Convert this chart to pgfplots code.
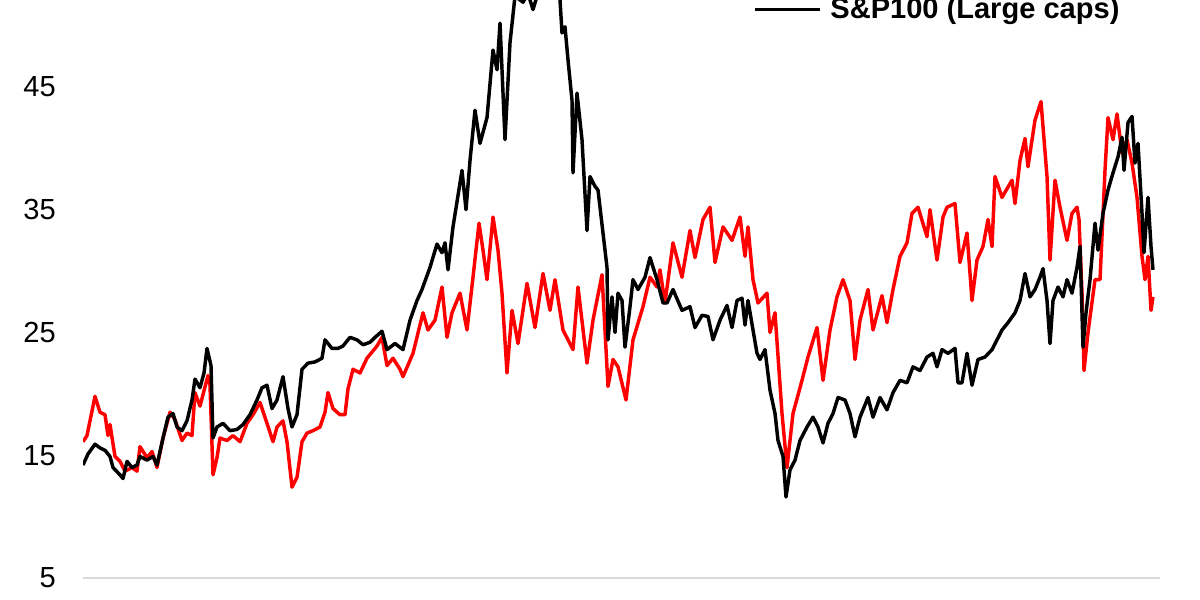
\documentclass[border=0pt]{standalone}
\usepackage{fontspec}
\setmainfont{Liberation Sans}
\usepackage{pgfplots}
\pgfplotsset{compat=1.18}

\begin{document}
\begin{tikzpicture}[x=0.01in,y=0.01in]
% 1 px of the reference = 0.01in; x values are the time axis read in px columns
\begin{axis}[
    scale only axis,
    width=10.77in, height=5.78in,
    xmin=83, xmax=1160,
    ymin=5, ymax=52.08,
    axis x line=bottom,
    axis y line=left,
    x axis line style={-, draw=black!15, line width=1.6pt},
    y axis line style={draw=none},
    xtick=\empty,
    ytick={5,15,25,35,45},
    major tick length=0pt,
    /pgf/number format/assume math mode=true,
    y tick label style={font=\fontsize{21}{24}\selectfont, inner sep=0pt, xshift=-0.27in},
    clip=true,
    every axis plot/.append style={line width=2.5pt, line join=round},
    legend style={at={(rel axis cs:0.622,0.984)}, anchor=west, draw=none, fill=none,
        inner sep=0pt, font=\fontsize{21}{24}\selectfont\bfseries},
    legend image code/.code={\draw[#1] (0in,0in) -- (0.65in,0in); \path (0.71in,0in);},
    legend cell align=left,
]
% Red series (other index, legend entry cut off above the frame)
\addplot[color=red, forget plot] coordinates {
(83,16.1) (87,16.6) (95,19.8) (100,18.5) (105,18.3) (108,16.6) (110,17.5) (115,14.9)
(120,14.5) (125,13.7) (132,14.0) (137,13.7) (140,15.7) (147,14.8) (152,15.3) (157,14.0)
(163,16.4) (170,18.5) (175,17.9) (182,16.2) (187,16.8) (192,16.6) (195,20.1) (200,19.0)
(208,21.5) (210,20.7) (213,13.4) (217,14.8) (220,16.4) (227,16.2) (233,16.6) (240,16.1)
(247,17.6) (253,18.3) (260,19.3) (267,17.6) (273,16.1) (277,17.3) (283,17.8) (287,16.1)
(292,12.4) (297,13.2) (302,16.1) (307,16.8) (313,17.0) (320,17.3) (325,18.5) (328,20.1)
(333,18.8) (340,18.3) (345,18.3) (348,20.4) (353,22.0) (360,21.7) (367,22.9) (372,23.4)
(377,23.9) (382,24.6) (387,22.3) (393,22.9) (400,22.0) (403,21.4) (413,23.3) (423,26.6)
(428,25.2) (435,26.0) (442,28.7) (447,24.6) (452,26.6) (460,28.2) (467,25.2) (473,29.5)
(479,33.9) (483,31.7) (487,29.3) (493,34.4) (498,31.7) (502,28.2) (507,21.7) (512,26.8)
(518,24.1) (527,29.0) (535,25.4) (543,29.8) (550,26.8) (555,29.3) (563,25.2) (573,23.6)
(578,28.7) (587,22.5) (593,26.0) (602,29.7) (608,20.6) (613,22.8) (618,22.2) (626,19.5)
(633,24.4) (643,27.1) (650,29.5) (657,28.7) (660,30.1) (665,27.4) (673,32.3) (682,29.5)
(690,33.3) (695,31.1) (703,34.2) (710,35.2) (715,30.7) (723,33.6) (732,32.5) (740,34.4)
(745,31.2) (748,33.6) (753,29.3) (758,27.4) (767,28.2) (770,25.0) (775,26.6) (782,18.4)
(787,14.0) (793,18.4) (802,21.1) (808,23.0) (817,25.4) (823,21.1) (830,25.2) (837,27.9)
(843,29.3) (850,27.6) (855,22.8) (860,26.0) (868,28.5) (873,25.2) (882,28.0) (887,25.8)
(893,28.5) (900,31.2) (907,32.3) (912,34.7) (918,35.2) (927,32.8) (930,35.0) (937,30.9)
(943,34.4) (947,35.2) (955,35.5) (960,30.7) (967,33.1) (972,27.6) (977,30.9) (983,32.0)
(988,34.2) (992,32.0) (995,37.7) (1002,36.0) (1012,37.4) (1015,35.5) (1020,39.0) (1025,40.8)
(1028,38.5) (1035,42.3) (1041,43.8) (1047,37.7) (1050,30.9) (1055,37.4) (1060,35.2) (1067,32.5)
(1072,34.7) (1077,35.2) (1079,34.2) (1082,28.2) (1084,21.9) (1088,25.0) (1095,29.3) (1100,29.3)
(1105,38.2) (1108,42.5) (1113,40.7) (1117,42.8) (1122,39.6) (1127,40.7) (1132,38.8) (1137,36.0)
(1142,31.2) (1145,29.3) (1148,31.2) (1151,26.8) (1153,27.9)
};
% Black series: S&P100 (Large caps)
\addplot[color=black] coordinates {
(83,14.2) (88,15.1) (95,15.9) (100,15.6) (105,15.4) (110,14.9) (113,14.0) (120,13.4)
(123,13.1) (127,14.5) (132,14.0) (137,14.2) (140,14.9) (147,14.6) (153,14.9) (157,14.2)
(163,16.4) (168,18.1) (173,18.4) (177,17.3) (182,17.0) (187,17.8) (192,19.5) (195,21.2)
(200,20.5) (204,21.7) (207,23.7) (211,22.3) (213,16.4) (217,17.3) (223,17.6) (230,17.0)
(237,17.1) (243,17.5) (250,18.3) (257,19.5) (262,20.5) (267,20.7) (272,18.8) (277,19.5)
(283,21.4) (288,18.8) (292,17.3) (297,18.3) (302,22.0) (308,22.5) (315,22.6) (322,22.9)
(325,24.4) (332,23.7) (338,23.7) (343,23.9) (350,24.6) (357,24.4) (363,24.0) (370,24.2)
(375,24.6) (382,25.1) (387,23.6) (395,24.1) (403,23.6) (410,26.0) (417,27.6) (422,28.5)
(430,30.3) (437,32.2) (442,31.5) (445,32.3) (448,30.1) (453,33.6) (462,38.2) (466,35.0)
(470,39.0) (475,43.1) (480,40.4) (487,42.5) (493,48.0) (497,46.4) (500,50.2) (505,40.7)
(510,48.6) (515,52.4) (523,51.9) (528,52.6) (533,51.3) (540,53.2) (548,54.0) (555,53.5)
(560,52.1) (562,49.4) (565,49.9) (568,47.2) (572,43.9) (573,38.0) (577,44.5) (582,40.7)
(587,33.3) (590,37.7) (595,36.9) (598,36.6) (603,33.1) (607,30.3) (608,24.4) (612,27.9)
(615,25.0) (618,28.2) (622,27.6) (625,23.8) (630,27.1) (633,29.3) (638,28.5) (645,29.5)
(650,31.1) (657,29.3) (663,27.4) (667,27.4) (673,28.5) (682,26.8) (690,27.1) (695,25.4)
(702,26.4) (708,26.3) (713,24.4) (720,26.0) (727,27.2) (732,25.4) (737,27.6) (742,27.8)
(745,25.6) (748,27.6) (753,25.2) (757,23.3) (760,22.8) (765,23.6) (770,20.3) (775,18.4)
(778,16.2) (783,14.9) (786,11.6) (790,13.8) (795,14.6) (800,16.2) (807,17.3) (813,18.1)
(818,17.3) (823,16.0) (828,17.6) (833,18.4) (838,19.7) (845,19.5) (850,18.4) (855,16.5)
(860,18.1) (868,19.7) (873,18.1) (880,19.7) (887,18.7) (893,20.1) (900,21.1) (907,20.9)
(913,22.2) (920,21.9) (927,23.0) (933,23.3) (937,22.2) (942,23.6) (948,23.3) (955,23.7)
(958,20.9) (962,20.9) (967,23.3) (972,20.7) (978,22.8) (985,23.0) (992,23.6) (997,24.4)
(1002,25.2) (1008,25.8) (1015,26.6) (1020,27.6) (1025,29.8) (1030,27.9) (1035,28.5) (1040,29.5)
(1043,30.2) (1047,27.6) (1050,24.1) (1053,27.6) (1058,28.7) (1063,27.9) (1067,29.3) (1072,28.2)
(1077,30.3) (1080,32.0) (1083,23.8) (1086,26.6) (1090,29.3) (1095,33.9) (1098,31.7) (1103,34.7)
(1108,36.6) (1113,38.0) (1118,39.3) (1122,40.9) (1124,38.2) (1128,42.1) (1132,42.6) (1135,38.8)
(1138,40.4) (1142,34.7) (1144,31.5) (1148,36.0) (1151,32.0) (1153,30.1)
};
\addlegendentry{S\&P100 (Large caps)}
\end{axis}
\pgfresetboundingbox
\path[use as bounding box] (-0.83in,-0.22in) rectangle (11.17in,5.78in);
\end{tikzpicture}
\end{document}
